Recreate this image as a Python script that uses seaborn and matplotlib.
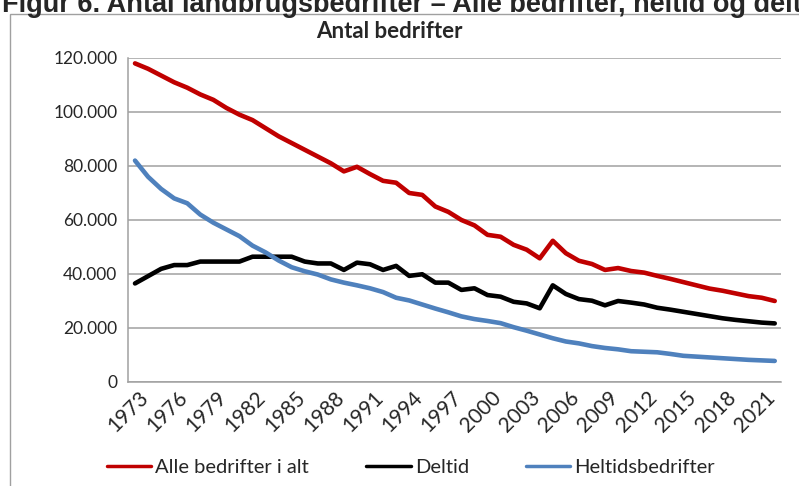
import numpy as np
import pandas as pd
import matplotlib.pyplot as plt
import seaborn as sns
from matplotlib.ticker import FuncFormatter
from matplotlib.lines import Line2D
from matplotlib.patches import Rectangle
from matplotlib.transforms import ScaledTranslation

# Data (antal bedrifter, i tusinder, aflaest fra figuren)
years = list(range(1973, 2023))
alle = [118.0, 116.0, 113.5, 111.0, 109.0, 106.5, 104.5, 101.5, 99.0, 97.0,
        94.0, 91.0, 88.5, 86.0, 83.5, 81.0, 78.0, 79.7, 77.0, 74.5,
        73.8, 70.0, 69.3, 65.0, 63.0, 60.0, 58.0, 54.5, 53.8, 50.8,
        49.0, 45.8, 52.3, 47.7, 44.9, 43.7, 41.5, 42.2, 41.1, 40.5,
        39.3, 38.2, 37.0, 35.8, 34.6, 33.8, 32.8, 31.8, 31.2, 30.0]
deltid = [36.5, 39.2, 41.9, 43.3, 43.3, 44.6, 44.6, 44.6, 44.6, 46.4,
          46.4, 46.4, 46.4, 44.6, 43.9, 43.9, 41.5, 44.2, 43.6, 41.5,
          43.0, 39.3, 39.9, 36.8, 36.8, 34.1, 34.7, 32.2, 31.6, 29.7,
          29.1, 27.3, 35.8, 32.6, 30.7, 30.1, 28.4, 30.0, 29.4, 28.7,
          27.5, 26.8, 26.0, 25.2, 24.4, 23.6, 23.0, 22.5, 22.0, 21.7]
heltid = [82.0, 76.0, 71.5, 68.0, 66.2, 62.0, 59.0, 56.5, 54.0, 50.5,
          48.0, 45.0, 42.5, 41.0, 39.8, 38.0, 36.8, 35.8, 34.7, 33.3,
          31.2, 30.2, 28.7, 27.2, 25.8, 24.3, 23.3, 22.6, 21.8, 20.3,
          19.0, 17.6, 16.2, 15.0, 14.3, 13.3, 12.6, 12.1, 11.4, 11.2,
          11.0, 10.4, 9.7, 9.4, 9.1, 8.8, 8.5, 8.2, 8.0, 7.8]

series_names = ['Alle bedrifter i alt', 'Deltid', 'Heltidsbedrifter']
colors = {'Alle bedrifter i alt': '#C00000', 'Deltid': '#000000', 'Heltidsbedrifter': '#4F81BD'}

wide = pd.DataFrame({'aar': years,
                     'Alle bedrifter i alt': np.array(alle) * 1000,
                     'Deltid': np.array(deltid) * 1000,
                     'Heltidsbedrifter': np.array(heltid) * 1000})
df = wide.melt(id_vars='aar', var_name='serie', value_name='antal')

sns.set_style('white')
plt.rcParams['font.family'] = ['Lato', 'DejaVu Sans']

fig = plt.figure(figsize=(7.99, 4.86), dpi=100)
ax = fig.add_axes([0.1608, 0.214, 0.817, 0.6667])

sns.lineplot(data=df, x='aar', y='antal', hue='serie', hue_order=series_names,
             palette=colors, linewidth=3.3, ax=ax, legend=False)

grid_col = '#a0a0a0'
ax.set_xlim(1972.5, 2022.5)
ax.set_ylim(0, 120000)
ax.set_yticks(range(0, 120001, 20000))
ax.yaxis.set_major_formatter(FuncFormatter(lambda v, p: f'{int(v):,}'.replace(',', '.')))
ax.yaxis.grid(True, color=grid_col, lw=1.1)
ax.set_axisbelow(True)
for s in ['top', 'right']:
    ax.spines[s].set_visible(False)
for s in ['left', 'bottom']:
    ax.spines[s].set_color(grid_col)
    ax.spines[s].set_linewidth(1.1)

# tick marks between categories, labels every third year
ax.set_xticks(np.arange(1972.5, 2023, 1))
ax.set_xticklabels([])
ax.set_xticks(years[::3], minor=True)
ax.set_xticklabels([str(y) for y in years[::3]], minor=True, rotation=45,
                   ha='right', va='top', rotation_mode='anchor')
ax.tick_params(axis='x', which='major', length=7, color=grid_col, width=1.1, direction='out')
ax.tick_params(axis='x', which='minor', length=0, pad=4, labelsize=15)
ax.tick_params(axis='y', length=7, color=grid_col, width=1.1, direction='out', labelsize=12.5, pad=1)
for lab in ax.get_xticklabels(minor=True):
    lab.set_transform(lab.get_transform() + ScaledTranslation(3 / 100, 0, fig.dpi_scale_trans))
ax.set_xlabel('')
ax.set_ylabel('')

# chart border and titles
fig.add_artist(Rectangle((10 / 799, -0.1), 1.2, (486 - 14) / 486 + 0.1, transform=fig.transFigure,
                         fill=False, ec=grid_col, lw=1))
fig.text(0.002, 1 - 11.5 / 486, 'Figur 6. Antal landbrugsbedrifter \u2013 Alle bedrifter, heltid og deltid',
         fontsize=19.5, fontweight='bold', family=['Liberation Sans', 'DejaVu Sans'],
         ha='left', va='baseline')
fig.text(389 / 799, 1 - 31 / 486, 'Antal bedrifter', fontsize=16, fontweight='bold',
         ha='center', va='center')

handles = [Line2D([], [], color=colors[n], lw=2.5) for n in series_names]
fig.legend(handles, series_names, loc='center', bbox_to_anchor=(0.5144, 0.039), ncol=3,
           frameon=False, handlelength=2.2, handletextpad=0.2, columnspacing=2.85, fontsize=14.5)

fig.savefig('out.png', dpi=100)
